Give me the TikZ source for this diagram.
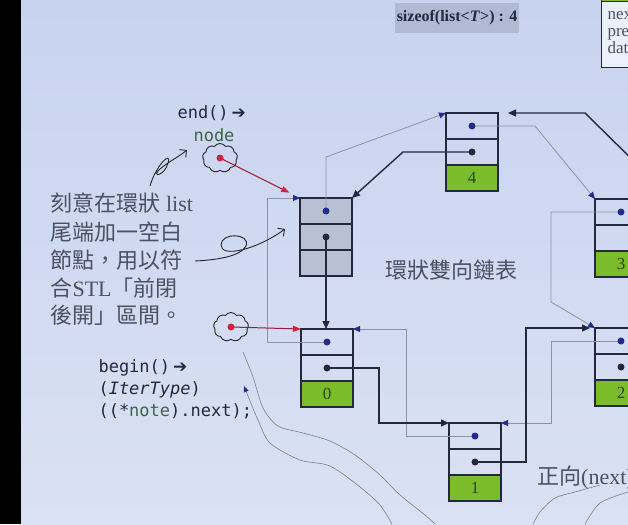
\documentclass[tikz,border=0pt]{standalone}
\usepackage{fontspec}
\setmainfont{Liberation Serif}
\setmonofont{DejaVu Sans Mono}
\newfontfamily\cjk{Noto Sans CJK TC}
\newfontfamily\symb{DejaVu Sans}
\usetikzlibrary{positioning,arrows.meta,shapes.symbols}

\definecolor{slidetop}{RGB}{200,211,240}
\definecolor{slidelow}{RGB}{218,225,244}
\definecolor{ink}{RGB}{36,40,62}
\definecolor{prevcol}{RGB}{140,146,172}
\definecolor{dotblue}{RGB}{34,44,142}
\definecolor{cellgray}{RGB}{186,192,212}
\definecolor{datagreen}{RGB}{122,188,42}
\definecolor{datatext}{RGB}{40,70,20}
\definecolor{notegray}{RGB}{76,81,98}
\definecolor{nodegreen}{RGB}{62,100,72}
\definecolor{sizebg}{RGB}{176,186,212}
\definecolor{pencil}{RGB}{120,126,150}
\definecolor{redptr}{RGB}{150,30,50}
\definecolor{reddot}{RGB}{214,32,62}

\begin{document}
\begin{tikzpicture}[x=1pt, y=-1pt, >={Triangle[length=8pt,width=7pt]},
    cell/.style={draw=ink, line width=1.3pt, minimum width=52pt, minimum height=26pt,
      inner sep=0pt, outer sep=0pt},
    endcell/.style={cell, fill=cellgray},
    datacell/.style={cell, fill=datagreen, text=datatext, font=\fontsize{17}{17}\selectfont},
    nextptr/.style={draw=ink, line width=1.4pt, ->},
    prevptr/.style={draw=prevcol, line width=0.8pt, -{Triangle[length=7pt,width=6pt,color=dotblue]}},
    redarrow/.style={draw=redptr, line width=1pt, -{Triangle[length=8pt,width=6pt,color=reddot]}},
    hand/.style={draw=black!85, line width=0.9pt},
    pencilline/.style={draw=pencil, line width=0.6pt},
    blob/.style={cloud, cloud puffs=9, cloud puff arc=110, draw=black!85, line width=0.9pt,
      minimum width=35pt, minimum height=29pt, inner sep=0pt},
    notetext/.style={anchor=base west, text=notegray, font=\fontsize{22}{28}\selectfont},
    codetext/.style={anchor=base west, text=ink, font=\ttfamily\fontsize{17}{22}\selectfont}]

  \useasboundingbox (0,0) rectangle (628,524);
  \clip (0,0) rectangle (628,524);
  \fill[black] (0,0) rectangle (21,524);
  \shade[top color=slidetop, bottom color=slidelow] (21,0) rectangle (628,524);

  % pencil marks on the slide
  \draw[pencilline] plot[smooth] coordinates {(243,352) (253,377) (263,408) (278,426) (303,433)
    (330,441) (355,455) (380,475) (400,495) (425,515) (435,524)};
  \draw[pencilline, {Triangle[length=6pt,width=5pt,color=dotblue]}-] plot[smooth] coordinates
    {(244,386) (258,420) (270,443) (300,460) (330,466) (360,487) (380,505) (392,524)};
  \draw[pencilline] plot[smooth] coordinates {(600,485) (575,492) (555,498) (540,512) (533,524)};
  \draw[pencilline] plot[smooth] coordinates {(628,492) (600,503) (585,524)};

  % header
  \node[fill=sizebg, minimum width=124pt, minimum height=30pt, inner sep=0pt, text=ink,
    font=\bfseries\fontsize{16}{16}\selectfont] (sizeinfo) at (457,18) {sizeof(list<\textit{T}>) : 4};
  \node[draw=ink, line width=1pt, fill=slidelow!50!white, anchor=north west, text width=50pt,
    minimum height=72pt, inner xsep=6pt, align=left, text=notegray,
    font=\fontsize{17}{17}\selectfont] (legend) at (601,-5) {next\\prev\\data};
  \filldraw[fill=datagreen, draw=ink, line width=1pt] (legend.north west) rectangle (680,2);

  % side notes
  \node[notetext] (note1) at (47,211) {{\cjk 刻意在環狀} list};
  \node[notetext] (note2) at (47,240) {\cjk 尾端加一空白};
  \node[notetext] (note3) at (47,268) {\cjk 節點，用以符};
  \node[notetext] (note4) at (47,296) {{\cjk 合}STL{\cjk 「前閉}};
  \node[notetext] (note5) at (47,323) {\cjk 後開」區間。};

  \node[codetext] (endcall) at (174,118) {end()\,{\symb ➔}};
  \node[codetext, text=nodegreen] (endnode) at (190,141) {node};
  \node[codetext] (begin1) at (95,372) {begin()\,{\symb ➔}};
  \node[codetext] (begin2) at (95,394) {(\textit{IterType})};
  \node[codetext] (begin3) at (95,416) {((*{\color{nodegreen}note}).next);};

  \node[text=notegray, font=\cjk\fontsize{22}{22}\selectfont] (title) at (451,270) {環狀雙向鏈表};
  \node[anchor=west, inner sep=0pt, text=notegray, font=\fontsize{22}{22}\selectfont] (fwd)
    at (537,478) {{\cjk 正向}(next)};

  % list nodes
  \node[endcell] (dump) at (326,211) {};
  \node[endcell, below=0pt of dump] (dumn) {};
  \node[endcell, below=0pt of dumn] (dumd) {};

  \node[cell] (n0p) at (327,342) {};
  \node[cell, below=0pt of n0p] (n0n) {};
  \node[datacell, below=0pt of n0n] (n0d) {0};

  \node[cell] (n1p) at (475,436) {};
  \node[cell, below=0pt of n1p] (n1n) {};
  \node[datacell, below=0pt of n1n] (n1d) {1};

  \node[cell] (n2p) at (621,341) {};
  \node[cell, below=0pt of n2p] (n2n) {};
  \node[datacell, below=0pt of n2n] (n2d) {2};

  \node[cell] (n3p) at (621,212) {};
  \node[cell, below=0pt of n3p] (n3n) {};
  \node[datacell, below=0pt of n3n] (n3d) {3};

  \node[cell] (n4p) at (472,126) {};
  \node[cell, below=0pt of n4p] (n4n) {};
  \node[datacell, below=0pt of n4n] (n4d) {4};

  \coordinate (n3out) at (650,177);

  % prev links
  \draw[prevptr] (dump.center) -- ++(0,-54) -- (n4p.north west);
  \draw[prevptr] (n4p.center) -- ++(63,0) -- (n3p.north west);
  \draw[prevptr] (n3p.center) -- ++(-70,0) -- ++(0,90) -- (n2p.north west);
  \draw[prevptr] (n2p.center) -- ++(-70,0) |- (n1p.north east);
  \draw[prevptr] (n1p.center) -- ++(-69,0) |- (n0p.north east);
  \draw[prevptr] (n0p.center) -- ++(-60,0) |- (dump.north west);

  % next links
  \draw[nextptr] (dumn.center) -- (dumn.center |- n0p.north);
  \draw[nextptr] (n0n.center) -- ++(52,0) |- (n1p.north west);
  \draw[nextptr, shorten >=5pt] (n1n.center) -- ++(51,0) |- (n2p.north west);
  \draw[nextptr, shorten >=10pt] (n3out) -- (585,113) -- (n4p.north east);
  \draw[nextptr] (n4n.center) -- ++(-69,0) -- (dump.north east);

  % pointer dots
  \foreach \c in {dump,n0p,n1p,n2p,n3p,n4p} \fill[dotblue] (\c.center) circle (3.5pt);
  \foreach \c in {dumn,n0n,n1n,n2n,n4n} \fill[ink] (\c.center) circle (3.5pt);

  % hand-drawn iterators
  \node[blob] (endblob) at (220,158) {};
  \node[blob] (begblob) at (231,327) {};
  \draw[redarrow, shorten >=12pt] (endblob.center) -- (dump.north west);
  \draw[redarrow] (begblob.center) -- (n0p.north west);
  \fill[reddot] (endblob.center) circle (3.5pt);
  \fill[reddot] (begblob.center) circle (3.5pt);

  \draw[hand, -{Straight Barb[length=5pt]}] (150,186) .. controls (156,165) and (172,150) .. (168,163)
    .. controls (165,176) and (150,178) .. (160,169) .. controls (168,162) and (177,158) .. (187,150);
  \draw[hand, -{Straight Barb[length=5pt]}] (195,261) .. controls (215,260) and (240,257) .. (246,246)
    .. controls (251,233) and (221,232) .. (221,245) .. controls (221,258) and (256,250) .. (285,229);
\end{tikzpicture}
\end{document}
